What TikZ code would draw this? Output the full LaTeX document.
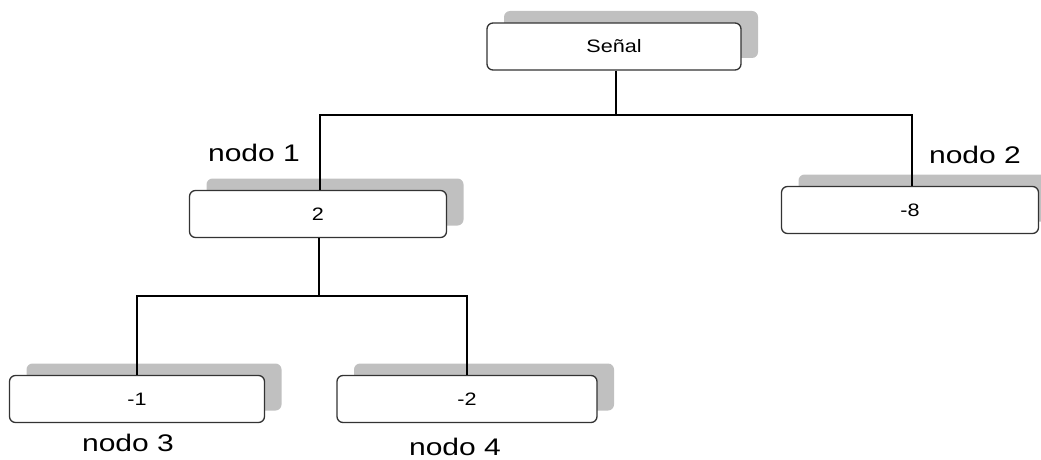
\documentclass[tikz,border=0pt]{standalone}
\usepackage{fontspec}
\setmainfont{Liberation Sans}
\newfontfamily\wideface[FakeStretch=1.25]{Liberation Sans}
\newfontfamily\boxface[FakeStretch=1.2]{Liberation Sans}
\usetikzlibrary{shadows}
\definecolor{boxline}{HTML}{333333}
\definecolor{shadowgray}{HTML}{C0C0C0}
\tikzset{
  treebox/.style={draw=boxline, line width=1.3pt, fill=white, rounded corners=6pt,
    minimum height=47pt, inner sep=0pt,
    font=\boxface\fontsize{18}{20}\selectfont,
    drop shadow={shadow xshift=17pt, shadow yshift=12pt, fill=shadowgray, opacity=1}},
  link/.style={draw=black, line width=1.5pt},
  tag/.style={font=\wideface\fontsize{24}{27}\selectfont, inner sep=0pt}
}
\begin{document}
\begin{tikzpicture}[x=1pt, y=-1pt]
\useasboundingbox (0,0) rectangle (1041,460);
\clip (0,0) rectangle (1041,460);

% tree boxes
\node[treebox, minimum width=254pt] (root) at (614,46.5) {Señal};
\node[treebox, minimum width=257pt] (n1) at (318,214) {2};
\node[treebox, minimum width=257pt] (n2) at (910,210) {-8};
\node[treebox, minimum width=255pt] (n3) at (137,399) {-1};
\node[treebox, minimum width=260pt] (n4) at (467,399) {-2};

% junction points of the branches
\coordinate (j1) at (616,115);
\coordinate (j2) at (319,296);

% connectors
\draw[link] (root.south -| j1) -- (j1);
\draw[link] (n1.north -| 320,0) |- (j1) -| (n2.north -| 912,0);
\draw[link] (n1.south -| j2) -- (j2);
\draw[link] (n3.north) |- (j2) -| (n4.north);

% node labels
\node[tag] (l1) at (254,153) {nodo 1};
\node[tag] (l2) at (975,155) {nodo 2};
\node[tag] (l3) at (128,443) {nodo 3};
\node[tag] (l4) at (455,447) {nodo 4};
\end{tikzpicture}
\end{document}
